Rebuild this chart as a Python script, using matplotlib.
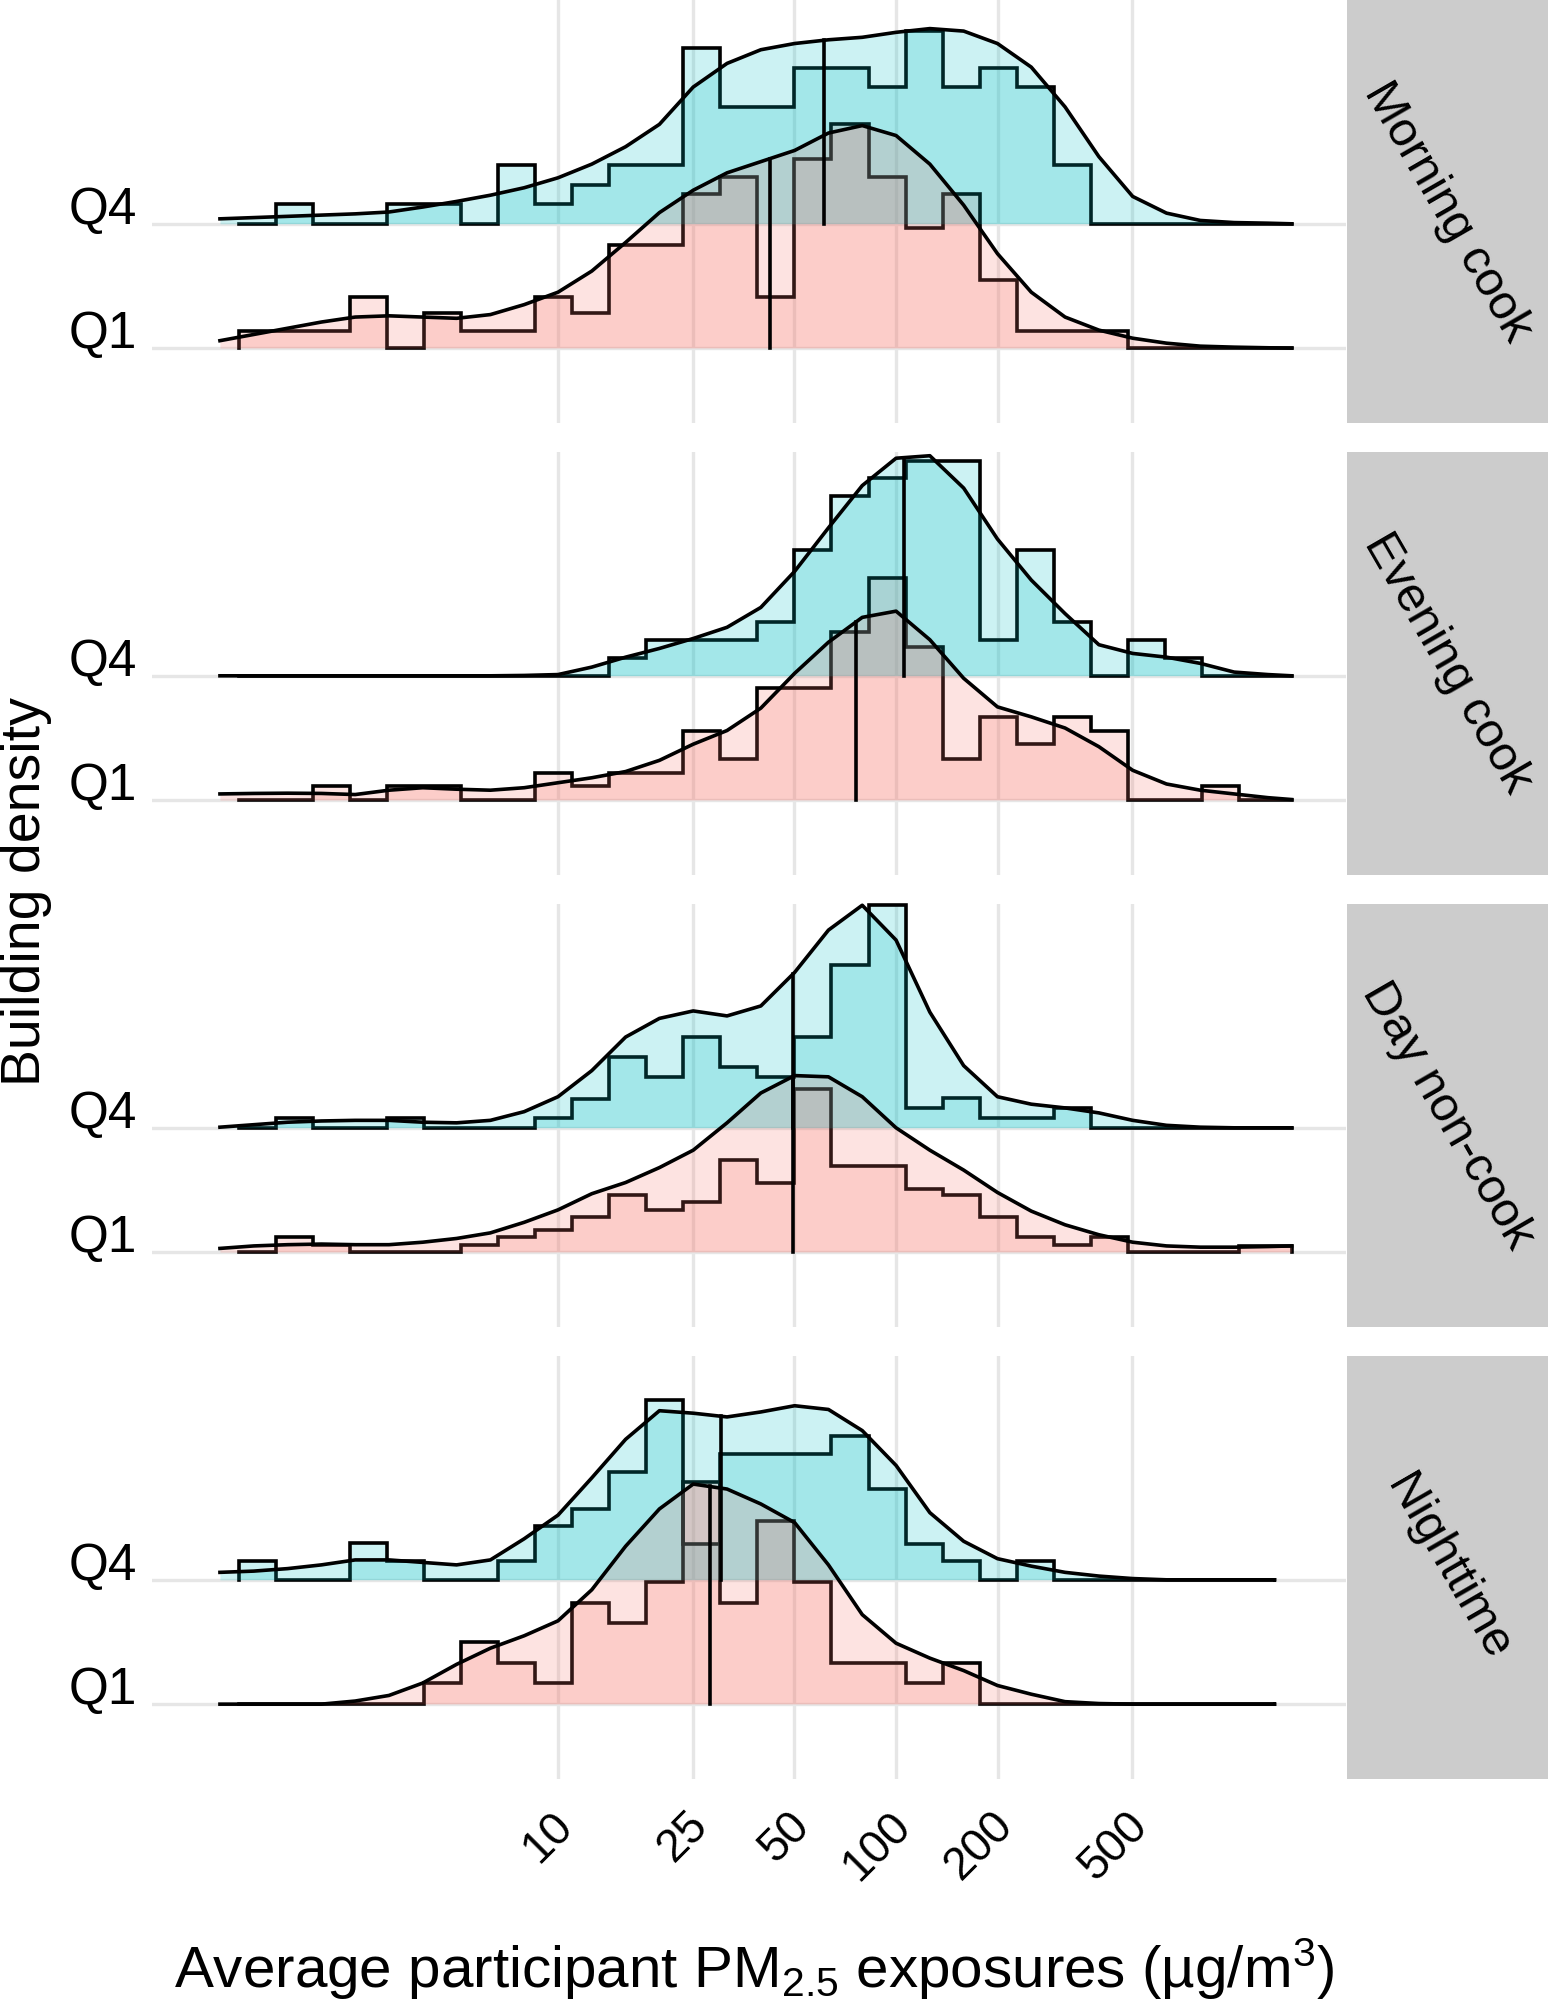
import numpy as np
import matplotlib.pyplot as plt
from matplotlib.ticker import NullLocator
from matplotlib.transforms import ScaledTranslation

plt.rcParams['font.family'] = ['Liberation Sans', 'DejaVu Sans']
plt.rcParams['mathtext.fontset'] = 'custom'
plt.rcParams['mathtext.rm'] = 'Liberation Sans'
plt.rcParams['mathtext.it'] = 'Liberation Sans:italic'

# ---- data ----
PERIODS = ["Morning cook", "Evening cook", "Day non-cook", "Nighttime"]
GROUPS = ["Q1", "Q4"]
TICK_VALUES = [10, 25, 50, 100, 200, 500]
TICK_LABELS = ["10", "25", "50", "100", "200", "500"]

# density grid in log10(ug/m3); last point is the end of the density range
LOG10_X = [0.0, 0.1, 0.2, 0.3, 0.4, 0.5, 0.6, 0.7, 0.8, 0.9, 1.0, 1.1, 1.2, 1.3, 1.4, 1.5,
           1.6, 1.7, 1.8, 1.9, 2.0, 2.1, 2.2, 2.3, 2.4, 2.5, 2.6, 2.7, 2.8, 2.9, 3.0, 3.1, 3.17]
X_END = [3.17, 3.17, 3.17, 3.12]

# ridge heights (1 = spacing between ridges)
MORNING_Q4 = [0.04, 0.05, 0.06, 0.07, 0.08, 0.095, 0.135, 0.18, 0.23, 0.29, 0.37, 0.48, 0.62, 0.80, 1.10, 1.29,
              1.40, 1.45, 1.48, 1.50, 1.54, 1.57, 1.55, 1.45, 1.26, 0.94, 0.54, 0.22, 0.086, 0.027, 0.01, 0.005, 0.0]
MORNING_Q1 = [0.06, 0.11, 0.16, 0.21, 0.25, 0.26, 0.25, 0.24, 0.27, 0.35, 0.45, 0.62, 0.85, 1.09, 1.27, 1.41,
              1.50, 1.59, 1.73, 1.79, 1.71, 1.48, 1.15, 0.76, 0.45, 0.25, 0.145, 0.08, 0.04, 0.016, 0.008, 0.003, 0.0]
EVENING_Q4 = [0, 0, 0, 0, 0, 0, 0, 0, 0, 0.003, 0.01, 0.07, 0.15, 0.22, 0.30, 0.39,
              0.55, 0.84, 1.19, 1.53, 1.75, 1.77, 1.51, 1.10, 0.77, 0.50, 0.25, 0.18, 0.15, 0.10, 0.03, 0.01, 0.0]
EVENING_Q1 = [0.05, 0.054, 0.056, 0.054, 0.045, 0.08, 0.10, 0.088, 0.08, 0.10, 0.14, 0.18, 0.23, 0.32, 0.45, 0.56,
              0.74, 1.02, 1.27, 1.47, 1.52, 1.29, 0.98, 0.75, 0.67, 0.58, 0.43, 0.24, 0.13, 0.08, 0.05, 0.02, 0.005]
DAY_Q4 = [0.005, 0.025, 0.045, 0.055, 0.06, 0.06, 0.045, 0.04, 0.06, 0.13, 0.25, 0.46, 0.73, 0.88, 0.94, 0.90,
          0.98, 1.25, 1.59, 1.79, 1.51, 0.93, 0.50, 0.25, 0.19, 0.16, 0.12, 0.06, 0.02, 0.005, 0.0, 0.0, 0.0]
DAY_Q1 = [0.03, 0.05, 0.06, 0.065, 0.06, 0.06, 0.08, 0.11, 0.155, 0.24, 0.34, 0.47, 0.56, 0.68, 0.82, 1.04,
          1.28, 1.42, 1.41, 1.25, 1.00, 0.82, 0.66, 0.48, 0.33, 0.22, 0.14, 0.08, 0.05, 0.04, 0.04, 0.045, 0.05]
NIGHT_Q4 = [0.06, 0.07, 0.09, 0.12, 0.16, 0.16, 0.14, 0.12, 0.16, 0.33, 0.52, 0.82, 1.13, 1.36, 1.34, 1.31,
            1.35, 1.40, 1.37, 1.20, 0.92, 0.54, 0.31, 0.17, 0.11, 0.06, 0.03, 0.01, 0.0, 0.0, 0.0, 0.0, 0.0]
NIGHT_Q1 = [0, 0, 0, 0, 0.025, 0.07, 0.17, 0.32, 0.45, 0.55, 0.67, 0.92, 1.27, 1.57, 1.77, 1.73,
            1.61, 1.46, 1.12, 0.72, 0.49, 0.37, 0.27, 0.15, 0.08, 0.02, 0.005, 0, 0, 0, 0, 0, 0]

# histogram bars (29 bins, same height units)
BIN_START = 0.057   # log10 of first bin edge
BIN_WIDTH = 0.1095  # bin width in log10 units
MORNING_Q4_HIST = [0, 0.16, 0, 0, 0.16, 0.16, 0, 0.47, 0.16, 0.31, 0.47, 0.47, 1.41, 0.94, 0.94,
                   1.25, 1.25, 1.10, 1.55, 1.10, 1.25, 1.10, 0.47, 0, 0, 0, 0, 0, 0]
MORNING_Q1_HIST = [0.14, 0.14, 0.14, 0.41, 0, 0.28, 0.14, 0.14, 0.41, 0.28, 0.83, 0.83, 1.24, 1.38, 0.41,
                   1.52, 1.80, 1.38, 0.97, 1.24, 0.55, 0.14, 0.14, 0.14, 0, 0, 0, 0, 0]
EVENING_Q4_HIST = [0, 0, 0, 0, 0, 0, 0, 0, 0, 0, 0.145, 0.29, 0.29, 0.29, 0.43,
                   1.01, 1.45, 1.59, 1.73, 1.73, 0.29, 1.01, 0.43, 0, 0.29, 0.145, 0, 0, 0]
EVENING_Q1_HIST = [0, 0, 0.11, 0, 0.11, 0.11, 0, 0, 0.22, 0.11, 0.22, 0.22, 0.56, 0.33, 0.90,
                   0.90, 1.35, 1.79, 1.23, 0.33, 0.67, 0.45, 0.67, 0.56, 0, 0, 0.11, 0, 0]
DAY_Q4_HIST = [0, 0.08, 0, 0, 0.08, 0, 0, 0, 0.08, 0.23, 0.57, 0.41, 0.73, 0.49, 0.41,
               0.73, 1.31, 1.79, 0.16, 0.24, 0.08, 0.08, 0.16, 0, 0, 0, 0, 0, 0]
DAY_Q1_HIST = [0, 0.12, 0.06, 0, 0, 0, 0.06, 0.12, 0.18, 0.28, 0.46, 0.34, 0.40, 0.74, 0.56,
               1.31, 0.69, 0.69, 0.51, 0.46, 0.28, 0.12, 0.06, 0.12, 0, 0, 0, 0.05, 0.05]
NIGHT_Q4_HIST = [0.15, 0, 0, 0.30, 0.15, 0, 0, 0.15, 0.43, 0.57, 0.87, 1.45, 0.29, 1.01, 1.01,
                 1.01, 1.16, 0.73, 0.29, 0.15, 0, 0.15, 0, 0, 0, 0, 0, 0, 0]
NIGHT_Q1_HIST = [0, 0, 0, 0, 0, 0.17, 0.50, 0.33, 0.17, 0.81, 0.65, 0.98, 1.79, 0.81, 1.47,
                 0.98, 0.33, 0.33, 0.17, 0.33, 0, 0, 0, 0, 0, 0, 0, 0, 0]

# medians (ug/m3)
MEDIAN_Q4 = [61.2, 105.9, 49.5, 30.4]
MEDIAN_Q1 = [42.4, 76.2, 49.5, 28.1]

DENS = {"Q4": [MORNING_Q4, EVENING_Q4, DAY_Q4, NIGHT_Q4],
        "Q1": [MORNING_Q1, EVENING_Q1, DAY_Q1, NIGHT_Q1]}
HIST = {"Q4": [MORNING_Q4_HIST, EVENING_Q4_HIST, DAY_Q4_HIST, NIGHT_Q4_HIST],
        "Q1": [MORNING_Q1_HIST, EVENING_Q1_HIST, DAY_Q1_HIST, NIGHT_Q1_HIST]}
MEDIANS = {"Q4": MEDIAN_Q4, "Q1": MEDIAN_Q1}
COLORS = {"Q1": "#F8766D", "Q4": "#00BFC4"}
BASE = {"Q1": 1, "Q4": 2}

# ---- layout (pixels) ----
W, H = 1548, 2004
DPI = 100
PANEL_TOPS = [0, 452, 904, 1356]
PANEL_H = 423
LEFT, RIGHT = 152, 1346
LW = 2.6

fig = plt.figure(figsize=(W / DPI, H / DPI), dpi=DPI)


def draw_ridge(ax, grp, i):
    base = BASE[grp]
    col = COLORS[grp]
    grid = np.array(LOG10_X, dtype=float)
    grid[-1] = X_END[i]
    x = 10 ** grid
    dens = np.array(DENS[grp][i], dtype=float)
    h = np.array(HIST[grp][i], dtype=float)

    # histogram: fill + step outline
    edges = BIN_START + BIN_WIDTH * np.arange(len(h) + 1)
    edges[-1] = min(edges[-1], X_END[i])
    ex = 10 ** edges
    ax.fill_between(ex, base, base + np.append(h, h[-1]), step='post',
                    color=col, alpha=0.2, lw=0, zorder=2)
    sx = np.concatenate([[ex[0]], np.repeat(ex, 2)[1:-1], [ex[-1]]])
    sy = np.concatenate([[0], np.repeat(h, 2), [0]]) + base
    ax.plot(sx, sy, color='black', lw=LW, zorder=3, solid_joinstyle='miter', clip_on=False)

    # density ridge on top
    ax.fill_between(x, base, base + dens, color=col, alpha=0.2, lw=0, zorder=4)
    ax.plot(x, base + dens, color='black', lw=LW, zorder=5, clip_on=False,
            solid_joinstyle='round')

    # median line up to the density curve
    m = MEDIANS[grp][i]
    hm = np.interp(np.log10(m), grid, dens)
    ax.plot([m, m], [base, base + hm], color='black', lw=LW, zorder=6)


for i, period in enumerate(PERIODS):
    top = PANEL_TOPS[i]
    ax = fig.add_axes([LEFT / W, 1 - (top + PANEL_H) / H, (RIGHT - LEFT) / W, PANEL_H / H])
    ax.set_xscale('log')
    ax.set_xlim(10 ** -0.201, 10 ** 3.331)
    ax.set_ylim(0.398, 3.80)
    ax.set_xticks(TICK_VALUES)
    ax.xaxis.set_minor_locator(NullLocator())
    ax.set_yticks([1, 2])
    ax.set_xticklabels([])
    ax.set_yticklabels([])
    ax.tick_params(length=0)
    ax.grid(True, color='#E6E6E6', lw=2.4, zorder=0)
    ax.set_axisbelow(True)
    for s in ax.spines.values():
        s.set_visible(False)

    for grp in ["Q4", "Q1"]:
        draw_ridge(ax, grp, i)
        ax.text(-15 / (RIGHT - LEFT), BASE[grp], grp, transform=ax.get_yaxis_transform(),
                ha='right', va='baseline', fontsize=37)

    # strip on the right
    sax = fig.add_axes([1347 / W, 1 - (top + PANEL_H) / H, 201 / W, PANEL_H / H])
    sax.set_facecolor('#CCCCCC')
    sax.set_xticks([])
    sax.set_yticks([])
    for s in sax.spines.values():
        s.set_visible(False)
    sax.text(0.5, 0.5, period, transform=sax.transAxes, rotation=-60,
             ha='center', va='center', rotation_mode='anchor', fontsize=35)

    if i == len(PERIODS) - 1:
        off = ScaledTranslation(8.5 / DPI, 0, fig.dpi_scale_trans)
        for v, lab in zip(TICK_VALUES, TICK_LABELS):
            ax.text(v, -40 / PANEL_H, lab, transform=ax.get_xaxis_transform() + off,
                    rotation=45, ha='right', va='center', rotation_mode='anchor', fontsize=33)

fig.text(26 / W, 1 - 892 / H, 'Building density', rotation=90, ha='center', va='center', fontsize=40)
fig.text(754 / W, 1 - 1988 / H, 'Average participant PM$_{2.5}$ exposures (µg/m$^3$)',
         ha='center', va='baseline', fontsize=42)

fig.savefig('out.png', dpi=DPI)
